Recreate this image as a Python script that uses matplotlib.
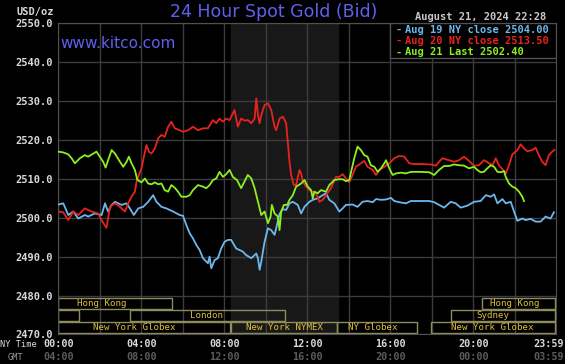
import matplotlib
matplotlib.use("Agg")
import matplotlib.pyplot as plt
from matplotlib.patches import Rectangle

# ---- data (hours after 00:00 NY time, USD/oz) ----
aug19_h = [0, 0.24, 0.48, 0.72, 0.96, 1.28, 1.44, 1.76, 2.09, 2.25, 2.40, 2.57, 2.73, 3.05, 3.29,
           3.45, 3.64, 3.85, 4.09, 4.33, 4.57, 4.73, 4.97, 5.21, 5.53, 5.85, 6.01, 6.17, 6.33, 6.49,
           6.65, 6.81, 6.97, 7.21, 7.29, 7.37, 7.53, 7.69, 7.85, 8.01, 8.17, 8.33, 8.57, 8.73, 8.89,
           9.05, 9.30, 9.46, 9.54, 9.62, 9.70, 9.78, 9.86, 9.94, 10.10, 10.26, 10.42, 10.50, 10.66,
           10.82, 10.98, 11.14, 11.30, 11.54, 11.70, 11.86, 12.10, 12.26, 12.50, 12.74, 12.90, 13.06,
           13.30, 13.54, 13.70, 13.86, 14.18, 14.42, 14.66, 14.90, 15.15, 15.31, 15.55, 15.79, 16.03,
           16.19, 16.43, 16.75, 16.99, 17.39, 17.87, 18.11, 18.35, 18.59, 18.91, 19.15, 19.39, 19.71,
           20.03, 20.35, 20.60, 20.84, 21.00, 21.16, 21.40, 21.56, 21.80, 21.96, 22.12, 22.36, 22.52,
           22.76, 23.00, 23.24, 23.48, 23.72, 23.88]
aug19_v = [2503.4, 2503.7, 2500.7, 2501.6, 2499.8, 2500.7, 2500.3, 2501.1, 2500.7, 2503.7, 2501.6,
           2503.3, 2504.1, 2503.3, 2503.7, 2502.4, 2500.7, 2502.4, 2502.8, 2504.1, 2505.8, 2504.1,
           2502.8, 2502.4, 2501.6, 2500.7, 2500.5, 2498.1, 2496.0, 2494.7, 2493.0, 2491.7, 2489.6,
           2488.3, 2490.0, 2487.0, 2489.1, 2489.6, 2492.1, 2493.8, 2494.3, 2494.3, 2492.1, 2491.7,
           2491.3, 2490.4, 2489.6, 2490.4, 2490.8, 2489.6, 2486.6, 2488.7, 2491.3, 2493.8, 2497.3,
           2496.8, 2495.6, 2497.3, 2501.0, 2502.2, 2502.0, 2503.7, 2504.1, 2503.3, 2501.1, 2502.8,
           2504.1, 2504.6, 2505.0, 2505.8, 2506.3, 2504.6, 2503.7, 2501.6, 2502.4, 2503.3, 2503.4,
           2502.8, 2504.1, 2504.3, 2504.0, 2504.8, 2504.6, 2504.7, 2505.1, 2504.3, 2504.0, 2503.7,
           2504.3, 2504.3, 2504.3, 2504.0, 2503.3, 2502.6, 2504.1, 2503.7, 2502.6, 2503.1, 2504.1,
           2504.3, 2505.8, 2505.4, 2506.0, 2503.7, 2504.8, 2503.7, 2504.1, 2501.6, 2499.2, 2499.8,
           2499.4, 2499.7, 2499.0, 2499.0, 2500.3, 2499.8, 2501.4]

aug20_h = [0, 0.24, 0.48, 0.72, 0.96, 1.28, 1.60, 1.92, 2.08, 2.25, 2.32, 2.49, 2.73, 2.97, 3.21,
           3.37, 3.53, 3.69, 3.77, 3.85, 4.01, 4.14, 4.25, 4.36, 4.49, 4.65, 4.81, 4.97, 5.13, 5.29,
           5.45, 5.61, 5.85, 6.01, 6.25, 6.49, 6.73, 6.97, 7.21, 7.45, 7.61, 7.77, 7.93, 8.09, 8.25,
           8.49, 8.65, 8.81, 8.97, 9.14, 9.30, 9.46, 9.54, 9.62, 9.70, 9.78, 9.94, 10.10, 10.26,
           10.42, 10.50, 10.66, 10.82, 10.98, 11.06, 11.14, 11.22, 11.35, 11.46, 11.62, 11.70, 11.78,
           11.94, 12.10, 12.26, 12.42, 12.58, 12.74, 12.90, 13.14, 13.38, 13.54, 13.70, 13.86, 14.02,
           14.18, 14.34, 14.58, 14.74, 14.90, 15.15, 15.31, 15.47, 15.71, 15.95, 16.19, 16.43, 16.67,
           16.91, 17.15, 17.55, 17.95, 18.19, 18.35, 18.51, 18.83, 19.07, 19.31, 19.55, 19.79, 20.03,
           20.27, 20.51, 20.76, 20.92, 21.08, 21.24, 21.40, 21.56, 21.72, 21.88, 22.12, 22.28, 22.44,
           22.60, 22.84, 23.00, 23.16, 23.32, 23.48, 23.64, 23.80, 23.91]
aug20_v = [2501.6, 2501.4, 2499.4, 2501.6, 2500.7, 2502.4, 2501.6, 2501.1, 2499.4, 2498.0, 2497.4,
           2502.8, 2503.7, 2502.8, 2501.6, 2503.7, 2505.4, 2506.7, 2509.3, 2510.5, 2512.7, 2516.1,
           2518.7, 2517.0, 2516.5, 2517.8, 2520.4, 2521.3, 2520.8, 2523.4, 2524.7, 2523.0, 2522.5,
           2522.1, 2522.5, 2523.4, 2522.5, 2523.0, 2523.0, 2525.1, 2524.3, 2525.5, 2524.7, 2525.5,
           2525.1, 2527.7, 2523.4, 2525.5, 2525.0, 2525.1, 2524.3, 2525.5, 2530.7, 2526.4, 2524.3,
           2526.4, 2529.0, 2529.4, 2527.7, 2523.4, 2522.5, 2525.5, 2526.0, 2524.3, 2519.5, 2514.4,
           2511.0, 2508.4, 2508.4, 2512.3, 2511.4, 2509.3, 2508.0, 2507.1, 2506.7, 2506.3, 2504.1,
           2504.6, 2505.8, 2507.6, 2510.5, 2510.5, 2511.2, 2510.1, 2509.1, 2511.0, 2513.1, 2514.0,
           2514.6, 2513.1, 2512.3, 2511.0, 2512.3, 2513.1, 2514.0, 2515.3, 2515.9, 2515.7, 2514.0,
           2513.8, 2513.8, 2513.7, 2513.4, 2514.4, 2515.3, 2514.8, 2514.4, 2514.8, 2515.7, 2514.6,
           2513.4, 2513.5, 2514.8, 2514.0, 2513.5, 2515.3, 2513.4, 2512.5, 2511.4, 2513.5, 2516.3,
           2517.4, 2518.9, 2517.8, 2517.1, 2517.4, 2518.0, 2516.1, 2514.4, 2513.5, 2516.1, 2517.0,
           2517.4]

aug21_h = [0, 0.24, 0.48, 0.64, 0.80, 1.04, 1.28, 1.44, 1.68, 1.84, 2.00, 2.16, 2.28, 2.40, 2.57,
           2.73, 2.97, 3.13, 3.29, 3.40, 3.53, 3.69, 3.81, 4.01, 4.17, 4.33, 4.49, 4.65, 4.81, 4.97,
           5.13, 5.29, 5.45, 5.61, 5.77, 5.93, 6.17, 6.33, 6.49, 6.73, 6.97, 7.13, 7.29, 7.45, 7.61,
           7.77, 7.93, 8.09, 8.25, 8.41, 8.61, 8.81, 8.97, 9.13, 9.30, 9.46, 9.62, 9.78, 9.94, 10.10,
           10.23, 10.29, 10.42, 10.58, 10.66, 10.74, 10.87, 11.03, 11.14, 11.30, 11.46, 11.70, 11.86,
           12.02, 12.18, 12.26, 12.34, 12.50, 12.66, 12.90, 13.06, 13.30, 13.54, 13.70, 13.86, 14.02,
           14.15, 14.26, 14.42, 14.58, 14.74, 14.90, 15.06, 15.23, 15.39, 15.55, 15.71, 15.79, 15.95,
           16.11, 16.27, 16.51, 16.75, 16.99, 17.39, 17.87, 18.11, 18.35, 18.59, 18.83, 19.07, 19.31,
           19.55, 19.79, 20.03, 20.19, 20.35, 20.51, 20.67, 20.84, 21.00, 21.16, 21.32, 21.48, 21.56,
           21.72, 21.88, 22.04, 22.20, 22.36, 22.44]
aug21_v = [2517.0, 2516.8, 2516.3, 2515.3, 2514.0, 2515.3, 2516.1, 2515.7, 2516.5, 2517.0, 2515.7,
           2514.4, 2512.9, 2514.8, 2517.4, 2516.5, 2514.4, 2513.1, 2514.4, 2515.7, 2514.0, 2512.3,
           2509.7, 2509.1, 2510.1, 2508.8, 2508.6, 2509.1, 2508.6, 2508.8, 2507.1, 2506.7, 2508.4,
           2507.7, 2506.7, 2505.4, 2505.4, 2505.8, 2507.1, 2508.4, 2508.0, 2507.6, 2508.4, 2509.7,
           2510.1, 2511.8, 2510.5, 2511.2, 2512.3, 2510.5, 2509.7, 2507.6, 2509.3, 2511.0, 2510.1,
           2507.6, 2504.1, 2500.7, 2501.6, 2498.6, 2500.3, 2503.3, 2501.1, 2500.3, 2496.8, 2501.6,
           2503.3, 2503.3, 2504.6, 2505.8, 2508.0, 2508.8, 2509.7, 2508.0, 2507.1, 2505.0, 2506.7,
           2506.3, 2507.1, 2506.7, 2508.4, 2509.7, 2509.9, 2509.9, 2509.4, 2509.7, 2512.7, 2515.3,
           2518.3, 2517.4, 2516.1, 2515.7, 2513.5, 2513.1, 2511.8, 2512.7, 2514.0, 2514.8, 2512.7,
           2511.0, 2511.4, 2511.6, 2511.4, 2511.8, 2511.8, 2511.7, 2511.0, 2512.3, 2513.3, 2513.3,
           2513.7, 2513.5, 2513.4, 2512.7, 2513.1, 2512.3, 2511.7, 2511.8, 2512.7, 2513.5, 2513.1,
           2511.8, 2511.7, 2512.0, 2510.5, 2508.8, 2508.0, 2507.6, 2506.7, 2505.4, 2504.3]

series_labels = ["Aug 19 NY close 2504.00", "Aug 20 NY close 2513.50", "Aug 21 Last 2502.40"]
series_colors = ["#6cb8ee", "#e8231e", "#8cf020"]

price_ticks = [2470, 2480, 2490, 2500, 2510, 2520, 2530, 2540, 2550]
time_ticks = [0, 4, 8, 12, 16, 20, 23.983]
ny_labels = ["00:00", "04:00", "08:00", "12:00", "16:00", "20:00", "23:59"]
gmt_labels = ["04:00", "08:00", "12:00", "16:00", "20:00", "00:00", "03:59"]

# trading sessions: (row, start hour, end hour, label, label centre hour)
sessions = [
    (0, 0.0, 5.5, "Hong Kong", 2.1),
    (0, 20.42, 23.95, "Hong Kong", 22.0),
    (1, 0.0, 0.98, "", 0),
    (1, 3.46, 10.9, "London", 7.15),
    (1, 18.93, 23.95, "Sydney", 20.95),
    (2, 0.0, 8.25, "New York Globex", 3.64),
    (2, 8.3, 13.45, "New York NYMEX", 10.88),
    (2, 13.45, 17.28, "NY Globex", 15.15),
    (2, 17.97, 23.95, "New York Globex", 20.9),
]
row_bottoms = [2476.5, 2473.4, 2470.4]
row_height = 2.75

mono = "DejaVu Sans Mono"
bg = "black"

fig = plt.figure(figsize=(5.65, 3.64), dpi=100, facecolor=bg)
ax = fig.add_axes([0.1032, 0.0813, 0.8809, 0.8547])
ax.set_facecolor(bg)
ax.set_xlim(0, 23.983)
ax.set_ylim(2470, 2550)

# NYMEX pit hours shading
ax.axvspan(8.33, 13.5, color="#181818", zorder=0)

# grid
for h in range(0, 24, 2):
    ax.axvline(h, color="#3c3c3c", lw=1, zorder=1)
for p in price_ticks:
    ax.axhline(p, color="#3c3c3c", lw=1, zorder=1)

for h, v, c in zip([aug19_h, aug20_h, aug21_h], [aug19_v, aug20_v, aug21_v], series_colors):
    ax.plot(h, v, color=c, lw=1.3, zorder=3)

# session boxes
for row, x0, x1, name, xc in sessions:
    y0 = row_bottoms[row]
    ax.add_patch(Rectangle((x0, y0), x1 - x0, row_height, fill=False,
                           edgecolor="#8c8c5c", lw=1, zorder=2))
    if name:
        ax.text(xc, y0 + row_height / 2, name, color="#e0c040", fontsize=6.6,
                family=mono, ha="center", va="center", zorder=4)

# legend box
ax.add_patch(Rectangle((16.0, 2541.0), 7.983, 9.0, facecolor=bg,
                       edgecolor="#505050", lw=1, zorder=5))
for i, (lab, c) in enumerate(zip(series_labels, series_colors)):
    y = 2548.3 - i * 2.9
    ax.text(16.27, y, "-", color=c, fontsize=7.5, family=mono, weight="bold",
            ha="left", va="center", zorder=6)
    ax.text(16.72, y, lab, color=c, fontsize=7.5, family=mono, weight="bold",
            ha="left", va="center", zorder=6)

ax.set_yticks(price_ticks)
ax.set_yticklabels([f"{p:.1f}" for p in price_ticks], family=mono, weight="bold",
                   fontsize=7.5, color="#d8d8d8")
ax.tick_params(axis="y", length=0, pad=4)
ax.set_xticks([])

tr = ax.get_xaxis_transform()
for t, a, b in zip(time_ticks, ny_labels, gmt_labels):
    # last label is pulled left so it stays inside the figure
    ha = "right" if t > 23 else "center"
    xt = 24.35 if t > 23 else t
    ax.text(xt, -0.031, a, transform=tr, ha=ha, va="center", family=mono,
            weight="bold", fontsize=7.3, color="#d8d8d8")
    ax.text(xt, -0.072, b, transform=tr, ha=ha, va="center", family=mono,
            weight="bold", fontsize=7.3, color="#5c5c5c")

for s in ax.spines.values():
    s.set_color("#505050")

fig.text(0.0, 1 - 344.5 / 364, "NY Time", family=mono, fontsize=6.2, color="#d8d8d8",
         ha="left", va="center")
fig.text(16 / 565, 1 - 357 / 364, "GMT", family=mono, fontsize=6.2, color="#9a9a9a",
         ha="center", va="center")
fig.text(16.7 / 565, 1 - 12 / 364, "USD/oz", family=mono, weight="bold", fontsize=7.5,
         color="#d8d8d8", ha="left", va="center")
fig.text(274 / 565, 1 - 12 / 364, "24 Hour Spot Gold (Bid)", fontsize=12.5,
         color="#6060f0", ha="center", va="center")
fig.text(60 / 565, 1 - 43 / 364, "www.kitco.com", fontsize=11, color="#6060f0",
         ha="left", va="center")
fig.text(546.7 / 565, 1 - 16.7 / 364, "August 21, 2024 22:28", family=mono, weight="bold",
         fontsize=7.5, color="#c8c8c8", ha="right", va="center")

fig.savefig("out.png", dpi=100, facecolor=bg)
